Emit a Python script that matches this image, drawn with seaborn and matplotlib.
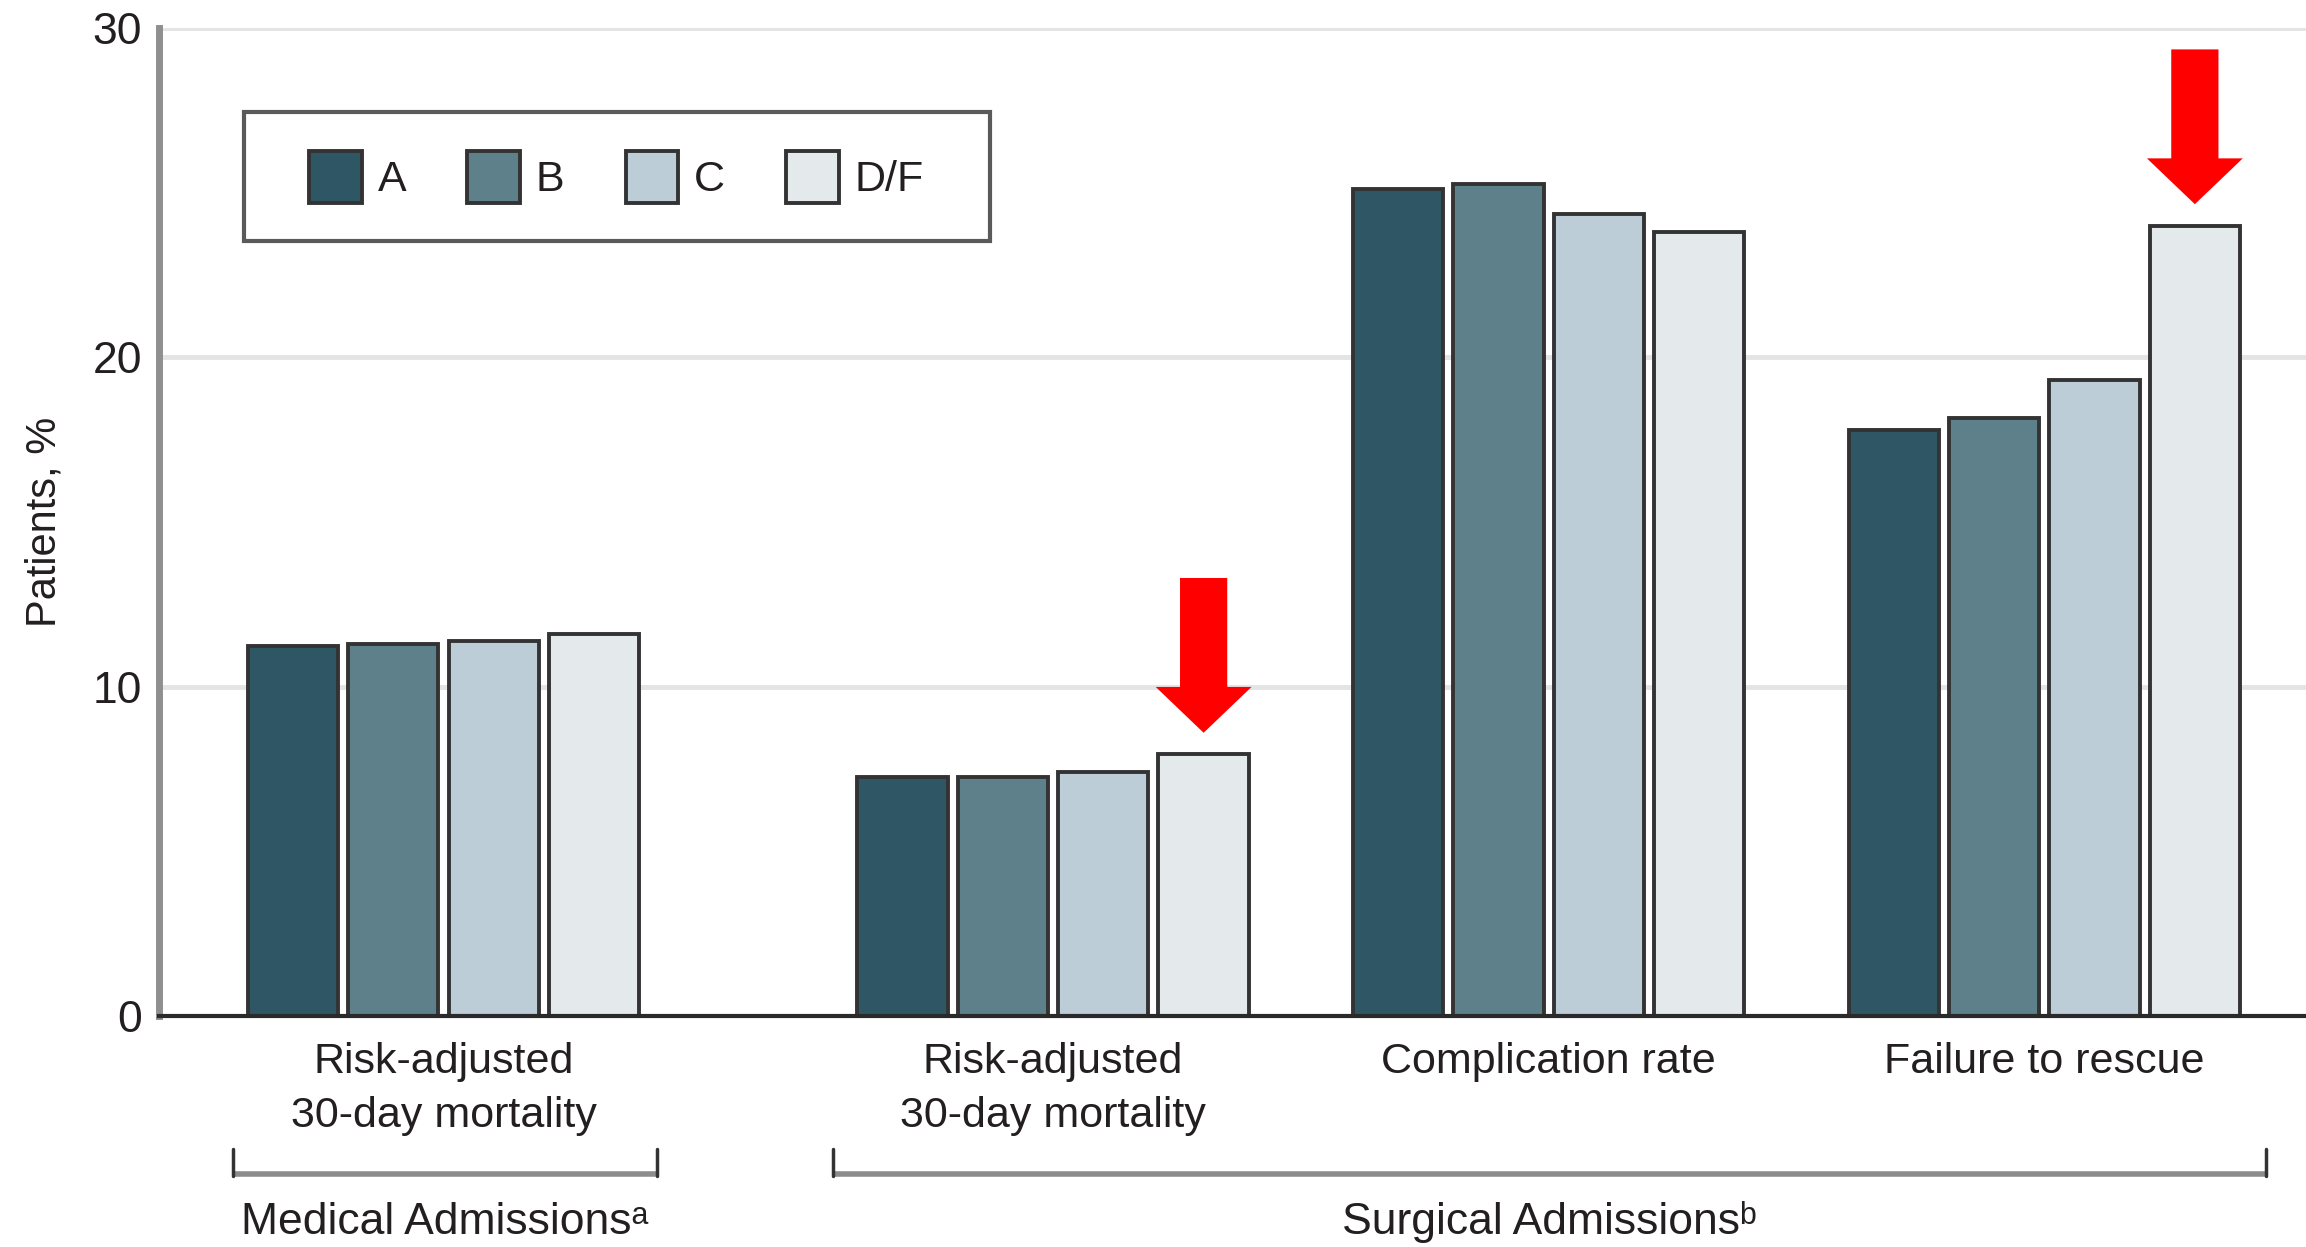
import numpy as np
import pandas as pd
import matplotlib

matplotlib.use('Agg')
import matplotlib.pyplot as plt
import seaborn as sns
from matplotlib.patches import Patch, FancyArrowPatch, Rectangle

sns.set_style("white")
plt.rcParams['font.family'] = ['Liberation Sans', 'DejaVu Sans']

# ---- data ----
measures = ["Risk-adjusted\n30-day mortality", "Risk-adjusted\n30-day mortality",
            "Complication rate", "Failure to rescue"]
grades = ["A", "B", "C", "D/F"]
grade_a = [11.25, 7.25, 25.1, 17.8]
grade_b = [11.3, 7.25, 25.25, 18.15]
grade_c = [11.4, 7.4, 24.35, 19.3]
grade_df = [11.6, 7.95, 23.8, 24.0]

# layout: medical group sits a little apart from the surgical ones
group_pos = [0.0, 1.23, 2.23, 3.23]
colors = ["#2f5664", "#5e808b", "#bccdd7", "#e4e9ec"]
edge = "#333333"
text_c = "#231f20"

rows = []
for g, vals in zip(grades, [grade_a, grade_b, grade_c, grade_df]):
    for p, v in zip(group_pos, vals):
        rows.append({"pos": p, "grade": g, "value": v})
df = pd.DataFrame(rows)

fig = plt.figure(figsize=(23.06, 12.47), dpi=100)
ax = fig.add_axes([159 / 2306, 231 / 1247, 2147 / 2306, 988 / 1247])

sns.barplot(data=df, x="pos", y="value", hue="grade", hue_order=grades,
            native_scale=True, palette=colors, saturation=1, width=0.81, gap=0.1,
            edgecolor=edge, linewidth=2.8, errorbar=None, legend=False, ax=ax)

ax.set_ylim(0, 30)
ax.set_xlim(-0.574, 3.758)
ax.set_yticks([0, 10, 20, 30])
ax.set_xticks(group_pos)
ax.set_xticklabels(measures, fontsize=31, color=text_c, linespacing=1.45)
ax.tick_params(axis="x", length=0, pad=19)
ax.tick_params(axis="y", length=7, width=3, color=edge, labelsize=32,
               labelcolor=text_c, pad=5)
ax.set_xlabel("")
ax.set_ylabel("Patients, %", fontsize=30, color=text_c)
ax.yaxis.set_label_coords(-0.044, 0.5)

ax.yaxis.grid(True, color="#e4e4e4", linewidth=3.5)
ax.set_axisbelow(True)
sns.despine(ax=ax, top=True, right=True)
ax.spines["left"].set_color("#8f8f8f")
ax.spines["left"].set_linewidth(5)
ax.spines["bottom"].set_color("#2a2a2a")
ax.spines["bottom"].set_linewidth(3)

# legend: frame drawn separately so the padding can differ per side
ax.add_patch(Rectangle((0.0396, 0.7844), 0.3475, 0.1306, transform=ax.transAxes,
                       facecolor="white", edgecolor="#5a5a5a", linewidth=3,
                       zorder=4, clip_on=False))
handles = [Patch(facecolor=c, edgecolor=edge, linewidth=2.8) for c in colors]
leg = ax.legend(handles, grades, loc="center left", ncol=4,
                bbox_to_anchor=(0.0699, 0.8492), frameon=False,
                borderaxespad=0, borderpad=0, fontsize=31,
                handlelength=1.23, handleheight=1.48, handletextpad=0.36,
                columnspacing=1.42)
leg.set_zorder(5)
for t in leg.get_texts():
    t.set_color(text_c)

# red arrows above the D/F bars of the surgical mortality and failure to rescue
df_bars = ax.containers[3]
for i in [1, 3]:
    bar = df_bars[i]
    xc = bar.get_x() + bar.get_width() / 2
    tip = bar.get_height() + 0.65
    arr = FancyArrowPatch((xc, tip + 4.7), (xc, tip),
                          arrowstyle="simple,head_length=3.3,head_width=6.9,tail_width=3.4",
                          mutation_scale=10, color="#ff0000", linewidth=0,
                          shrinkA=0, shrinkB=0, zorder=5)
    ax.add_patch(arr)

# group brackets below the axis
trans = ax.get_xaxis_transform()
brackets = [(-0.424, 0.430, "Medical Admissionsᵃ"),
            (0.786, 3.677, "Surgical Admissionsᵇ")]
for x0, x1, lab in brackets:
    ax.plot([x0, x1], [-0.160, -0.160], color="#8c8c8c", linewidth=4,
            transform=trans, clip_on=False, solid_capstyle="butt")
    ax.plot([x0, x0], [-0.135, -0.162], color=edge, linewidth=2.5,
            transform=trans, clip_on=False)
    ax.plot([x1, x1], [-0.135, -0.162], color=edge, linewidth=2.5,
            transform=trans, clip_on=False)
    ax.text((x0 + x1) / 2, -0.209, lab, transform=trans, ha="center",
            va="center", fontsize=32, color=text_c)

fig.savefig("out.png", dpi=100)
